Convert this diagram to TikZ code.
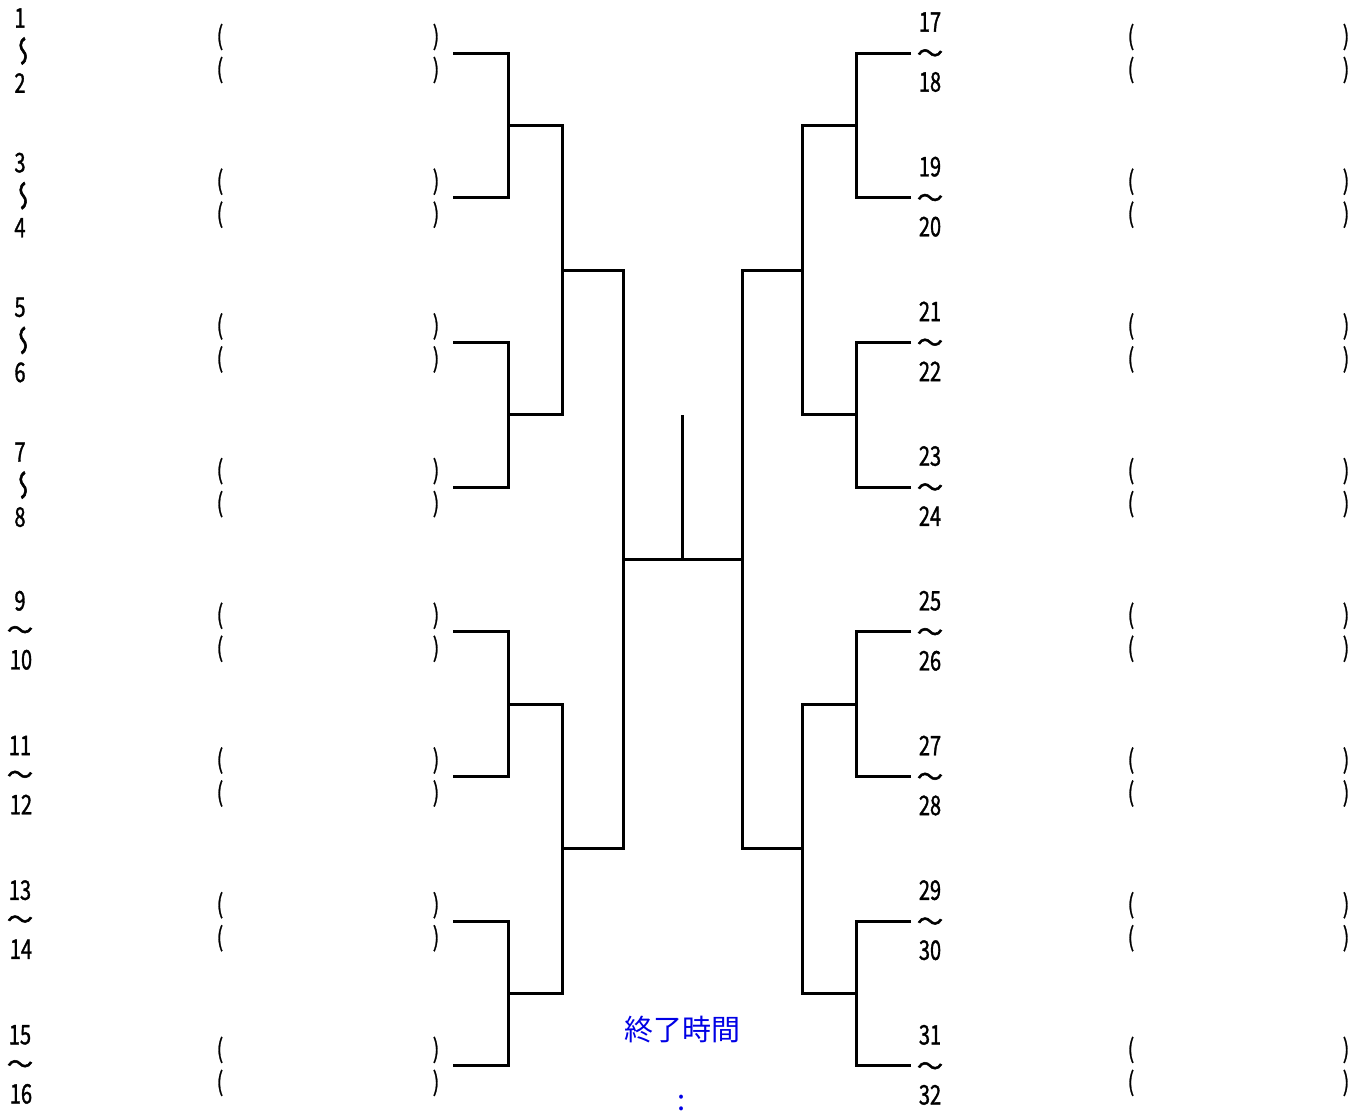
\documentclass[tikz,border=0pt]{standalone}
\usepackage{fontspec}
\usepackage{graphicx}
\newfontfamily\jp[FakeStretch=0.74,FakeBold=1.2]{Noto Sans CJK JP}
\newfontfamily\jpp[FakeStretch=0.72,FakeBold=1]{Noto Sans CJK JP}
\newfontfamily\jpt[FakeBold=2]{Noto Sans CJK JP}
\newfontfamily\jpw{Noto Sans CJK JP}
\begin{document}
\begin{tikzpicture}[x=1pt,y=-1pt,
  num/.style={inner sep=0pt, font=\jp\fontsize{27}{30}\selectfont},
  wav/.style={inner sep=0pt, font=\jpt\fontsize{26}{28}\selectfont},
  paren/.style={inner sep=0pt, font=\jpp\fontsize{26}{28}\selectfont},
  blu/.style={inner sep=0pt, text=blue!90!black, font=\jpw\fontsize{29}{32}\selectfont},
  wire/.style={line width=3pt, line join=miter}]
\useasboundingbox (0,0) rectangle (1370,1112);
% left labels and parentheses
\foreach \i in {0,...,7} {
  \pgfmathsetmacro\g{53+144.7*\i}
  \pgfmathtruncatemacro\na{2*\i+1}
  \pgfmathtruncatemacro\nb{2*\i+2}
  \ifnum\i<4
    \node[num] (lta\i) at (20,\g-35) {\na};
    \node[wav] (ltw\i) at (20,\g-2) {\scalebox{-1}[1.15]{\rotatebox{90}{〜}}};
    \node[num] (ltb\i) at (20,\g+30) {\nb};
  \else
    \node[num] (lta\i) at (20,\g-31) {\na};
    \node[wav] (ltw\i) at (20,\g+1) {〜};
    \node[num] (ltb\i) at (21,\g+28) {\nb};
  \fi
  \node[paren] (lpa\i) at (220,\g-16) {(};
  \node[paren] (lpb\i) at (436,\g-16) {)};
  \node[paren] (lpc\i) at (220,\g+17) {(};
  \node[paren] (lpd\i) at (436,\g+17) {)};
  \coordinate (la\i) at (453,\g);
  % right side
  \pgfmathtruncatemacro\ra{2*\i+17}
  \pgfmathtruncatemacro\rb{2*\i+18}
  \node[num] (rta\i) at (930,\g-31) {\ra};
  \node[wav] (rtw\i) at (930,\g+3) {〜};
  \node[num] (rtb\i) at (930,\g+29) {\rb};
  \node[paren] (rpa\i) at (1131,\g-16) {(};
  \node[paren] (rpb\i) at (1346,\g-16) {)};
  \node[paren] (rpc\i) at (1131,\g+17) {(};
  \node[paren] (rpd\i) at (1346,\g+17) {)};
  \coordinate (ra\i) at (911,\g);
}
% bracket coordinates
\foreach \j in {0,...,3} {
  \pgfmathsetmacro\m{53+144.7*(2*\j+0.5)}
  \coordinate (lm\j) at (508,\m);
  \coordinate (rm\j) at (856,\m);
}
\foreach \k in {0,1} {
  \pgfmathsetmacro\n{53+144.7*(4*\k+1.5)}
  \coordinate (ln\k) at (562,\n);
  \coordinate (rn\k) at (802,\n);
}
\coordinate (lf) at (623,{53+144.7*3.5});
\coordinate (rf) at (742,{53+144.7*3.5});
\coordinate (ctop) at (682,415);
\coordinate (cbot) at (682,{53+144.7*3.5});
% first round
\foreach \j/\a/\b in {0/0/1,1/2/3,2/4/5,3/6/7} {
  \draw[wire] (la\a) -| (lm\j) |- (la\b);
  \draw[wire] (ra\a) -| (rm\j) |- (ra\b);
}
% second round
\foreach \j/\k in {0/0,1/0,2/1,3/1} {
  \draw[wire] (lm\j) -| (ln\k);
  \draw[wire] (rm\j) -| (rn\k);
}
% third round
\foreach \k in {0,1} {
  \draw[wire] (ln\k) -| (lf);
  \draw[wire] (rn\k) -| (rf);
}
\draw[wire] (lf) -- (rf);
\draw[wire] (ctop) -- (cbot);
% end time
\node[blu] (endt) at (682,1030) {終了時間};
\node[blu] (colon) at (682,1103) {:};
\end{tikzpicture}
\end{document}
